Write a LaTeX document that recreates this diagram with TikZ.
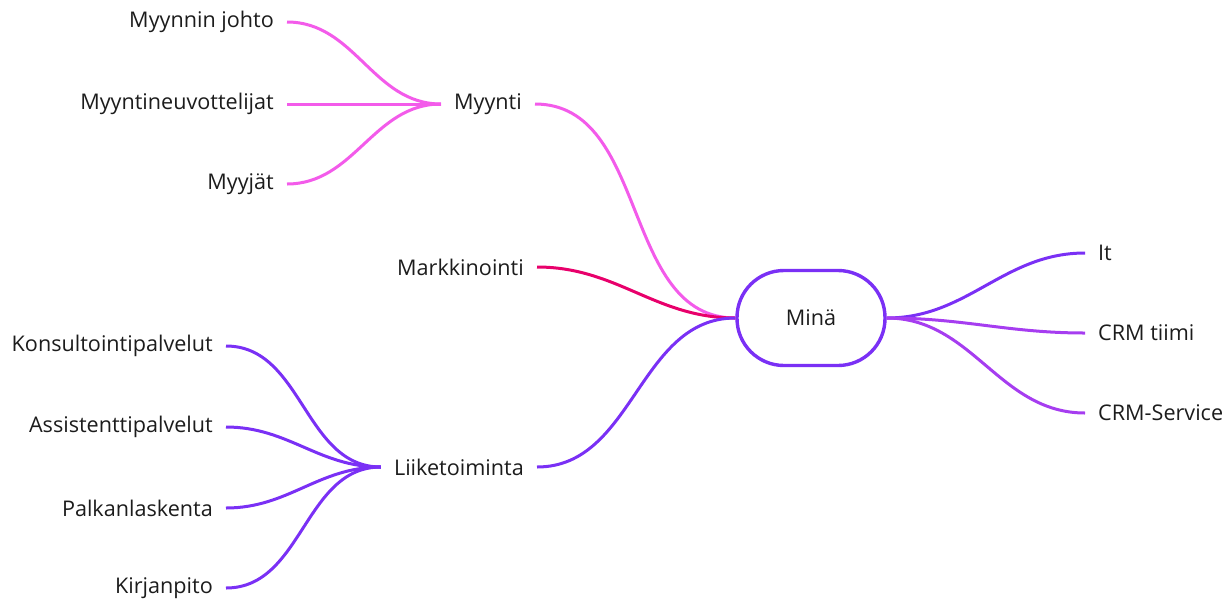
\documentclass[tikz,border=0pt]{standalone}
\usepackage{fontspec}
\setmainfont{Open Sans}
\usepackage{tikz}
\usetikzlibrary{positioning}
\definecolor{MiroPink}{HTML}{F35BEA}
\definecolor{MiroRed}{HTML}{E8006B}
\definecolor{MiroPurple}{HTML}{7A30F5}
\definecolor{MiroViolet}{HTML}{A63DF0}
\definecolor{MiroText}{HTML}{1C1C1C}
\tikzset{
  topic/.style={inner xsep=13pt, inner ysep=2pt, text=MiroText, font=\fontsize{21.6}{24}\selectfont},
  root/.style={draw=MiroPurple, line width=3.4pt, rounded corners=47pt, minimum width=148pt, minimum height=95pt, text=MiroText, font=\fontsize{21.6}{24}\selectfont},
  link/.style={line width=3pt, out=#1, in=180+#1},
  link/.default=0
}
\begin{document}
\begin{tikzpicture}[x=1pt, y=-1pt]
\useasboundingbox (0,0) rectangle (1230,600);
% centre
\node[root] (mina) at (811,318) {Minä};
% left main branches
\node[topic, anchor=east] (myynti) at (535,104) {Myynti};
\node[topic, anchor=east] (markk) at (537,267) {Markkinointi};
\node[topic, anchor=east] (liike) at (537,467) {Liiketoiminta};
% Myynti children
\node[topic, anchor=east] (johto) at (287,22) {Myynnin johto};
\node[topic, anchor=east] (neuvot) at (287,104) {Myyntineuvottelijat};
\node[topic, anchor=east] (myyjat) at (287,184) {Myyjät};
% Liiketoiminta children
\node[topic, anchor=east] (konsult) at (226,346) {Konsultointipalvelut};
\node[topic, anchor=east] (assist) at (226,427) {Assistenttipalvelut};
\node[topic, anchor=east] (palkka) at (226,508) {Palkanlaskenta};
\node[topic, anchor=east] (kirja) at (226,588) {Kirjanpito};
% right branches
\node[topic, anchor=west] (it) at (1085,253) {It};
\node[topic, anchor=west] (crmt) at (1085,333) {CRM tiimi};
\node[topic, anchor=west] (crms) at (1085,413) {CRM-Service};

\draw[link, MiroPink] (myynti.east) to (mina.west);
\draw[link, MiroRed] (markk.east) to (mina.west);
\draw[link, MiroPurple] (liike.east) to (mina.west);
\draw[link=180, MiroPink] (myynti.west) to (johto.east);
\draw[link=180, MiroPink] (myynti.west) to (neuvot.east);
\draw[link=180, MiroPink] (myynti.west) to (myyjat.east);
\draw[link=180, MiroPurple] (liike.west) to (konsult.east);
\draw[link=180, MiroPurple] (liike.west) to (assist.east);
\draw[link=180, MiroPurple] (liike.west) to (palkka.east);
\draw[link=180, MiroPurple] (liike.west) to (kirja.east);
\draw[link, MiroPurple] (mina.east) to (it.west);
\draw[link, MiroViolet] (mina.east) to (crmt.west);
\draw[link, MiroViolet] (mina.east) to (crms.west);
\end{tikzpicture}
\end{document}
